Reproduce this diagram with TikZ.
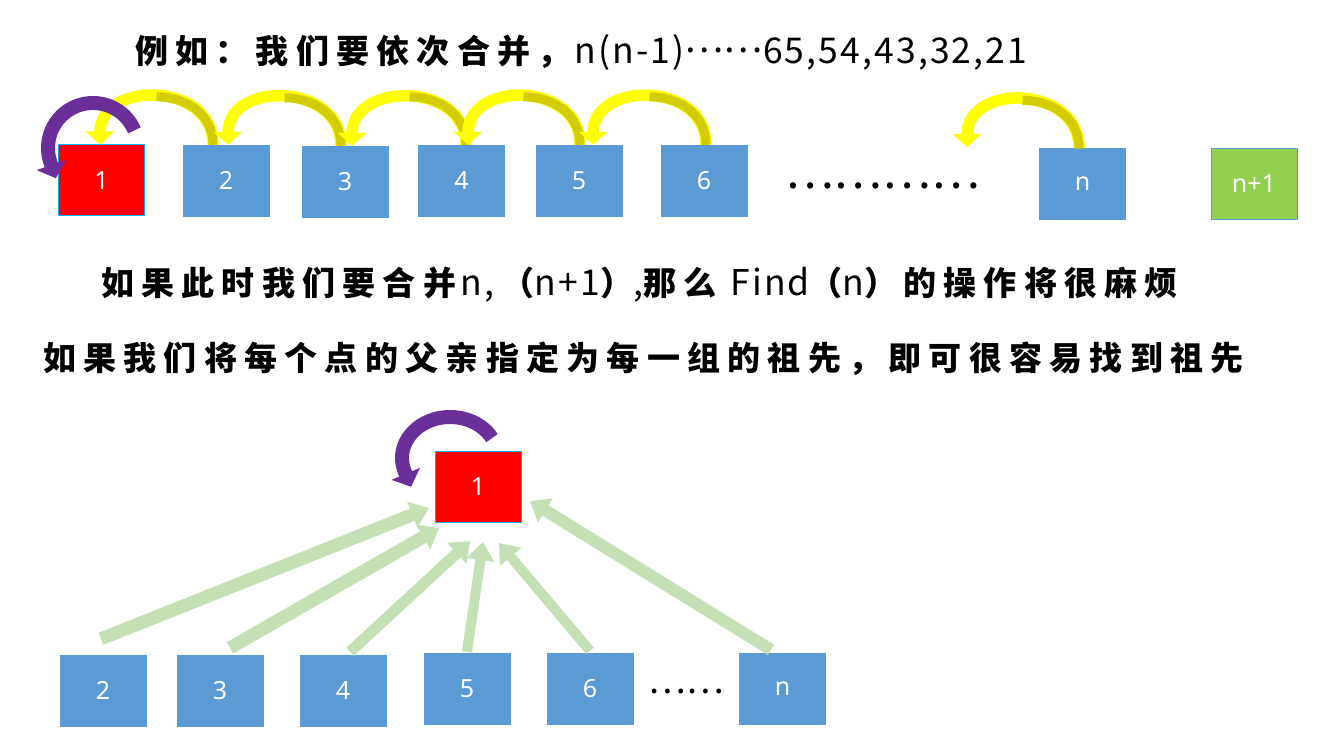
\documentclass[tikz,border=0pt]{standalone}
\usepackage{fontspec}
\usetikzlibrary{arrows.meta}
\newfontfamily\zhfont[LetterSpace=22]{Noto Sans CJK SC}
\newfontfamily\lafont[LetterSpace=6]{Noto Sans CJK SC}
\newfontfamily\dotfont{Noto Sans CJK SC}
\newfontfamily\numfont{Noto Sans}
\newcommand\zh[1]{{\zhfont\bfseries\fontsize{33}{40}\selectfont #1}}
\newcommand\la[1]{{\lafont\fontsize{35.5}{42}\selectfont #1}}
\newcommand\dt[1]{\raisebox{11pt}{\dotfont\fontsize{37}{42}\selectfont #1}}
\definecolor{boxblue}{HTML}{5B9BD5}
\definecolor{boxred}{HTML}{FF0000}
\definecolor{bordercyan}{HTML}{00B0F0}
\definecolor{boxgreen}{HTML}{92D050}
\definecolor{yel}{HTML}{FFFF00}
\definecolor{yeldark}{HTML}{D2CC00}
\definecolor{purp}{HTML}{6A2F99}
\definecolor{lgreen}{HTML}{C5E0B4}
\tikzset{
  numbox/.style={rectangle, minimum width=86pt, minimum height=71pt, inner sep=0pt,
    text=white, font=\numfont\fontsize{25}{28}\selectfont},
  bluebox/.style={numbox, fill=boxblue, draw=boxblue},
  redbox/.style={numbox, fill=boxred, draw=bordercyan, line width=1pt},
  greenbox/.style={numbox, fill=boxgreen, draw=boxblue, line width=1pt},
  yarr/.style={draw=yel, line width=11.5pt, -{Triangle[width=28pt,length=13pt]}},
  ydark/.style={draw=yeldark, line width=9pt},
  parr/.style={draw=purp, line width=14pt, -{Triangle[width=30pt,length=14pt]}},
  garr/.style={draw=lgreen, -{Triangle[width=27pt,length=18pt]}},
  txt/.style={anchor=base west, inner sep=0pt},
  dots/.style={inner sep=0pt, anchor=center}
}
\begin{document}
\begin{tikzpicture}[x=1pt,y=-1pt]
\path[use as bounding box, fill=white] (0,0) rectangle (1321,751);

% title and sentences
\node[txt] (t1) at (135,64) {\zh{例如：我们要依次合并，}\hspace{4pt}\la{n(n-1)}\dt{……}\la{65,54,43,32,21}};
\node[txt] (t2) at (101,295) {\zh{如果此时我们要合并}\hspace{4pt}\la{n,}\hspace{8pt}\zh{（}\la{n+1}\zh{）}\la{,}\zh{那么}\hspace{14pt}\la{Find}\zh{（}\la{n}\zh{）}\hspace{6pt}\zh{的操作将很麻烦}};
\node[txt] (t3) at (43,370) {\zh{如果我们将每个点的父亲指定为每一组的祖先，即可很容易找到祖先}};

% top row
\node[redbox] (a1) at (101.5,180.5) {1};
\node[bluebox] (a2) at (226,180.5) {2};
\node[bluebox] (a3) at (345,181.5) {3};
\node[bluebox] (a4) at (461.5,180.5) {4};
\node[bluebox] (a5) at (579,180.5) {5};
\node[bluebox] (a6) at (704,180.5) {6};
\node[dots] (topdots) at (882.5,186) {{\dotfont\fontsize{46}{50}\selectfont …………}};
\node[bluebox] (an) at (1082.5,184) {n};
\node[greenbox] (an1) at (1254,184) {n+1};
\coordinate (ntip) at (967,147);

% yellow curved arrows
\foreach \s/\e/\ds/\de in {a2/a1/-13/-1.5, a3/a2/-4/2, a4/a3/4.5/7, a5/a4/1/6.5, a6/a5/2/14}{
  \draw[yarr] ([xshift=\ds pt]\s.north) .. controls +(0,-64) and +(0,-64) .. ([xshift=\de pt]\e.north);
  \draw[ydark] ([xshift=\ds pt]\s.north) .. controls +(0,-32) and +(28.25,0) .. ([shift={(\ds-56.5,-48)}]\s.north);
}
\draw[yarr] ([xshift=-3.5pt]an.north) .. controls +(0,-64) and +(0,-64) .. (ntip);
\draw[ydark] ([xshift=-3.5pt]an.north) .. controls +(0,-32) and +(28.25,0) .. ([shift={(-3.5-56.5,-48)}]an.north);

% purple self arrow (top)
\draw[parr] ([shift={(32.9,-50.1)}]a1.center) .. controls (124.9,107.9) and (99.2,97.2) .. (76.5,106.1)
  .. controls (53.8,115.0) and (42.4,140.5) .. (50.7,163.4) -- ([shift={(-45.7,-2.2)}]a1.center);

% bottom row
\node[redbox] (b1) at (478,486.5) {1};
\node[bluebox] (d2) at (103,690.5) {2};
\node[bluebox] (d3) at (220,690.5) {3};
\node[bluebox] (d4) at (343,690.5) {4};
\node[bluebox] (d5) at (467,688.5) {5};
\node[bluebox] (d6) at (590,688.5) {6};
\node[dots] (botdots) at (686.5,691) {{\dotfont\fontsize{35.5}{40}\selectfont ……}};
\node[bluebox] (dn) at (782.5,688.5) {n};

% purple self arrow (bottom)
\draw[parr] ([shift={(14,-48.4)}]b1.center) .. controls (479.9,419.4) and (452.9,411.8) .. (430.1,420.7)
  .. controls (407.3,429.6) and (396.3,451.9) .. (404.9,472.0) -- ([shift={(-66.9,0.3)}]b1.center);

% green arrows
\draw[garr, line width=13pt] ([shift={(-2,-16)}]d2.north) -- ([shift={(-49,21.5)}]b1.center);
\draw[garr, line width=13pt] ([shift={(10,-7)}]d3.north) -- ([shift={(-39,41.5)}]b1.center);
\draw[garr, line width=11pt] ([shift={(7,-3)}]d4.north) -- ([shift={(-8,54.5)}]b1.center);
\draw[garr, line width=10pt] ([shift={(0,-1)}]d5.north) -- ([shift={(5,55.5)}]b1.center);
\draw[garr, line width=10pt] ([shift={(0,-2)}]d6.north) -- ([shift={(21,56.5)}]b1.center);
\draw[garr, line width=12pt] ([shift={(-11.5,-3)}]dn.north) -- ([shift={(52,14.5)}]b1.center);
\end{tikzpicture}
\end{document}
